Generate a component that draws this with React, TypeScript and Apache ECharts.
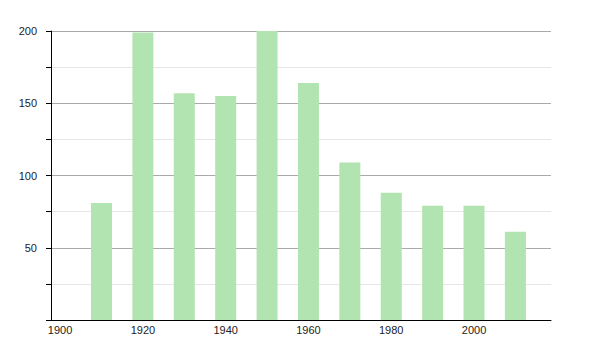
import React, { useEffect, useRef } from "react";
import * as echarts from "echarts";

const years = [1910, 1920, 1930, 1940, 1950, 1960, 1970, 1980, 1990, 2000, 2010];
const values = [81, 199, 157, 155, 200, 164, 109, 88, 79, 79, 61];
const xTickLabels = [1900, 1920, 1940, 1960, 1980, 2000];
const yTickLabels = [50, 100, 150, 200];

export default function App() {
  const ref = useRef<HTMLDivElement>(null);
  useEffect(() => {
    document.body.style.margin = "0";
    const chart = echarts.init(ref.current!, null, { renderer: "svg" });
    chart.setOption({
      animation: false,
      grid: { left: 51, right: 49, top: 31, bottom: 30 },
      xAxis: {
        type: "value",
        min: 1897.8,
        max: 2018.6,
        splitLine: { show: false },
        axisLine: { show: true, lineStyle: { color: "#000", width: 1 } },
        axisTick: { show: false },
        axisLabel: {
          customValues: xTickLabels,
          color: "#222",
          fontFamily: "Liberation Sans",
          fontSize: 11,
          margin: 4,
          formatter: (v: number) => String(v),
        },
      },
      yAxis: {
        type: "value",
        min: 0,
        max: 200,
        interval: 25,
        axisLine: { show: true, lineStyle: { color: "#000", width: 1 } },
        axisTick: { show: true, length: 5, lineStyle: { color: "#000" } },
        axisLabel: {
          color: "#222",
          fontFamily: "Liberation Sans",
          fontSize: 11,
          margin: 14,
          formatter: (v: number) => (yTickLabels.includes(v) ? String(v) : ""),
        },
        splitLine: {
          show: true,
          lineStyle: { color: ["#aaaaaa", "#e6e6e6"], width: 1 },
        },
      },
      series: [
        {
          type: "bar",
          barWidth: 21,
          itemStyle: { color: "#b2e4b2" },
          data: years.map((y, i) => [y, values[i]]),
        },
      ],
    });
    return () => chart.dispose();
  }, []);
  return <div ref={ref} style={{ width: 600, height: 350 }} />;
}
